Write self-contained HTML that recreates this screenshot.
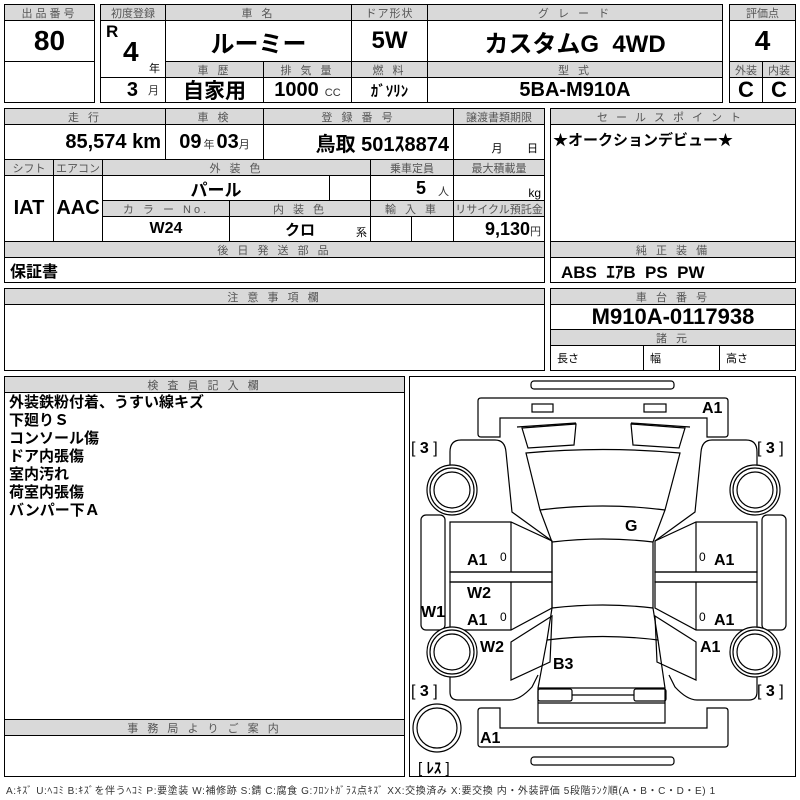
<!DOCTYPE html>
<html><head><meta charset="utf-8"><style>
body{margin:0;width:800px;height:800px;background:#fff;position:relative;overflow:hidden;font-family:"Liberation Sans","Noto Sans CJK JP",sans-serif}
.c{position:absolute;border:1px solid #000;box-sizing:border-box;display:flex;align-items:center;justify-content:center;white-space:nowrap;overflow:hidden}
.h{background:#d9d9d9;color:#555;font-size:11px;letter-spacing:3px}
.v{font-family:"Liberation Sans Narrow","Liberation Sans","Noto Sans CJK JP",sans-serif;font-weight:bold;color:#000}
.s{font-size:11px;font-weight:normal;color:#333}
.t{position:absolute;font-family:"Liberation Sans","Noto Sans CJK JP",sans-serif;font-weight:bold;white-space:nowrap}
</style></head><body>
<div class="c h" style="left:4px;top:4px;width:91px;height:17px">出品番号</div>
<div class="c v" style="left:4px;top:20px;width:91px;height:42px;font-size:28px">80</div>
<div class="c" style="left:4px;top:61px;width:91px;height:42px"></div>
<div class="c h" style="left:100px;top:4px;width:66px;height:17px;letter-spacing:0">初度登録</div>
<div class="c h" style="left:165px;top:4px;width:187px;height:17px">車 名</div>
<div class="c h" style="left:351px;top:4px;width:77px;height:17px;letter-spacing:1px">ドア形状</div>
<div class="c h" style="left:427px;top:4px;width:296px;height:17px">グ レ ー ド</div>
<div class="c" style="left:100px;top:20px;width:66px;height:58px"></div>
<div class="t v" style="left:106px;top:22px;font-size:17px">R</div>
<div class="t v" style="left:123px;top:36px;font-size:28px">4</div>
<div class="t" style="left:149px;top:60px;font-size:11px;font-weight:normal">年</div>
<div class="c v" style="left:100px;top:77px;width:66px;height:26px;font-size:20px;justify-content:flex-end;padding-right:6px">3 <span class="s" style="margin-left:10px">月</span></div>
<div class="c v" style="left:165px;top:20px;width:187px;height:42px;font-size:24px">ルーミー</div>
<div class="c v" style="left:351px;top:20px;width:77px;height:42px;font-size:24px">5W</div>
<div class="c v" style="left:427px;top:20px;width:296px;height:42px;font-size:24px">カスタムG&nbsp;&nbsp;4WD</div>
<div class="c h" style="left:165px;top:61px;width:99px;height:17px">車 歴</div>
<div class="c h" style="left:263px;top:61px;width:89px;height:17px">排 気 量</div>
<div class="c h" style="left:351px;top:61px;width:77px;height:17px">燃 料</div>
<div class="c h" style="left:427px;top:61px;width:296px;height:17px">型 式</div>
<div class="c v" style="left:165px;top:77px;width:99px;height:26px;font-size:21px">自家用</div>
<div class="c v" style="left:263px;top:77px;width:89px;height:26px;font-size:20px">1000 <span class="s" style="margin-left:6px;margin-top:6px">CC</span></div>
<div class="c v" style="left:351px;top:77px;width:77px;height:26px;font-size:15px">ｶﾞｿﾘﾝ</div>
<div class="c v" style="left:427px;top:77px;width:296px;height:26px;font-size:20px">5BA-M910A</div>
<div class="c h" style="left:729px;top:4px;width:67px;height:17px;letter-spacing:0">評価点</div>
<div class="c v" style="left:729px;top:20px;width:67px;height:42px;font-size:28px">4</div>
<div class="c h" style="left:729px;top:61px;width:34px;height:17px;letter-spacing:0">外装</div>
<div class="c h" style="left:762px;top:61px;width:34px;height:17px;letter-spacing:0">内装</div>
<div class="c v" style="left:729px;top:77px;width:34px;height:26px;font-size:22px">C</div>
<div class="c v" style="left:762px;top:77px;width:34px;height:26px;font-size:22px">C</div>
<div class="c h" style="left:4px;top:108px;width:162px;height:17px">走 行</div>
<div class="c h" style="left:165px;top:108px;width:99px;height:17px">車 検</div>
<div class="c h" style="left:263px;top:108px;width:191px;height:17px">登 録 番 号</div>
<div class="c h" style="left:453px;top:108px;width:92px;height:17px;letter-spacing:0">譲渡書類期限</div>
<div class="c v" style="left:4px;top:124px;width:162px;height:36px;font-size:20px;justify-content:flex-end;padding-right:4px">85,574 km</div>
<div class="c v" style="left:165px;top:124px;width:99px;height:36px;font-size:20px">09<span class="s" style="margin:4px 2px 0">年</span>03<span class="s" style="margin-top:4px">月</span></div>
<div class="c v" style="left:263px;top:124px;width:191px;height:36px;font-size:20px;justify-content:flex-end;padding-right:4px">鳥取 501ｽ8874</div>
<div class="c" style="left:453px;top:124px;width:92px;height:36px;font-size:11px;align-items:flex-end;padding-bottom:3px;justify-content:flex-end;padding-right:6px">月 &nbsp;&nbsp;&nbsp;&nbsp;&nbsp;&nbsp;&nbsp;日</div>
<div class="c h" style="left:4px;top:159px;width:50px;height:17px;letter-spacing:0">シフト</div>
<div class="c h" style="left:53px;top:159px;width:50px;height:17px;letter-spacing:0">エアコン</div>
<div class="c h" style="left:102px;top:159px;width:269px;height:17px">外 装 色</div>
<div class="c h" style="left:370px;top:159px;width:84px;height:17px;letter-spacing:0">乗車定員</div>
<div class="c h" style="left:453px;top:159px;width:92px;height:17px;letter-spacing:0">最大積載量</div>
<div class="c v" style="left:4px;top:175px;width:50px;height:67px;font-size:20px">IAT</div>
<div class="c v" style="left:53px;top:175px;width:50px;height:67px;font-size:20px">AAC</div>
<div class="c v" style="left:102px;top:175px;width:228px;height:26px;font-size:17px">パール</div>
<div class="c" style="left:329px;top:175px;width:42px;height:26px"></div>
<div class="c v" style="left:370px;top:175px;width:84px;height:26px;font-size:18px;justify-content:flex-end;padding-right:4px">5<span class="s" style="margin-left:12px;margin-top:5px">人</span></div>
<div class="c" style="left:453px;top:175px;width:92px;height:26px;font-size:12px;justify-content:flex-end;padding-right:3px;align-items:flex-end">kg</div>
<div class="c h" style="left:102px;top:200px;width:128px;height:17px">カ ラ ー No.</div>
<div class="c h" style="left:229px;top:200px;width:142px;height:17px">内 装 色</div>
<div class="c h" style="left:370px;top:200px;width:84px;height:17px">輸 入 車</div>
<div class="c h" style="left:453px;top:200px;width:92px;height:17px;letter-spacing:0">リサイクル預託金</div>
<div class="c v" style="left:102px;top:216px;width:128px;height:26px;font-size:16px">W24</div>
<div class="c v" style="left:229px;top:216px;width:142px;height:26px;font-size:15px">クロ</div>
<div class="t" style="left:356px;top:224px;font-size:11px;font-weight:normal">系</div>
<div class="c" style="left:370px;top:216px;width:42px;height:26px"></div>
<div class="c" style="left:411px;top:216px;width:43px;height:26px"></div>
<div class="c v" style="left:453px;top:216px;width:92px;height:26px;font-size:18px;justify-content:flex-end;padding-right:3px">9,130<span class="s" style="margin-top:4px">円</span></div>
<div class="c h" style="left:4px;top:241px;width:541px;height:17px">後 日 発 送 部 品</div>
<div class="c" style="left:4px;top:257px;width:541px;height:26px;justify-content:flex-start;padding-left:5px;font-size:16px;font-weight:bold">保証書</div>
<div class="c h" style="left:550px;top:108px;width:246px;height:17px;letter-spacing:8px">セールスポイント</div>
<div class="c" style="left:550px;top:124px;width:246px;height:118px;align-items:flex-start;justify-content:flex-start;padding:4px 2px;font-size:15px;font-weight:bold">★オークションデビュー★</div>
<div class="c h" style="left:550px;top:241px;width:246px;height:17px">純 正 装 備</div>
<div class="c v" style="left:550px;top:257px;width:246px;height:26px;font-size:17px;justify-content:flex-start;padding-left:10px">ABS&nbsp; ｴｱB&nbsp; PS&nbsp; PW</div>
<div class="c h" style="left:4px;top:288px;width:541px;height:17px">注 意 事 項 欄</div>
<div class="c" style="left:4px;top:304px;width:541px;height:67px"></div>
<div class="c h" style="left:550px;top:288px;width:246px;height:17px">車 台 番 号</div>
<div class="c v" style="left:550px;top:304px;width:246px;height:26px;font-size:22px">M910A-0117938</div>
<div class="c h" style="left:550px;top:329px;width:246px;height:17px">諸 元</div>
<div class="c" style="left:550px;top:345px;width:94px;height:26px;font-size:11px;justify-content:flex-start;padding-left:6px">長さ</div>
<div class="c" style="left:643px;top:345px;width:77px;height:26px;font-size:11px;justify-content:flex-start;padding-left:6px">幅</div>
<div class="c" style="left:719px;top:345px;width:77px;height:26px;font-size:11px;justify-content:flex-start;padding-left:6px">高さ</div>
<div class="c h" style="left:4px;top:376px;width:401px;height:17px">検 査 員 記 入 欄</div>
<div class="c" style="left:4px;top:392px;width:401px;height:328px;align-items:flex-start;justify-content:flex-start;padding:1px 4px;font-size:15px;font-weight:bold;line-height:18px;white-space:pre">外装鉄粉付着、うすい線キズ
下廻りＳ
コンソール傷
ドア内張傷
室内汚れ
荷室内張傷
バンパー下Ａ</div>
<div class="c h" style="left:4px;top:719px;width:401px;height:17px">事 務 局 よ り ご 案 内</div>
<div class="c" style="left:4px;top:735px;width:401px;height:42px"></div>
<div class="c" style="left:409px;top:376px;width:387px;height:401px"></div>
<svg style="position:absolute;left:0;top:0" width="800" height="800" viewBox="0 0 800 800" fill="none" stroke="#000" stroke-width="1.2">
<rect x="531" y="381" width="143" height="8" rx="3"/>
<path d="M478,401 Q478,398 481,398 H725 Q728,398 728,401 V434 Q728,437 725,437 H707 V418 H500 V437 H481 Q478,437 478,434 Z"/>
<rect x="532" y="404" width="21" height="8"/><rect x="644" y="404" width="22" height="8"/>
<path d="M478,744 Q478,747 481,747 H725 Q728,747 728,744 V711 Q728,708 725,708 H707 V728 H500 V708 H481 Q478,708 478,711 Z"/>
<rect x="531" y="757" width="143" height="8" rx="3"/>
<path d="M526,453 Q603,446 680,453 L665,510 Q603,502 540,510 Z"/>
<path d="M540,510 L552,542 Q603,536 653,542 L665,510"/>
<path d="M552,542 V608 Q603,602 653,608 V542"/>
<path d="M552,608 L547,640 Q603,633 658,640 L653,608"/>
<path d="M547,640 L538,688 V723 H665 V688 L658,640"/>
<line x1="538" y1="688" x2="665" y2="688"/>
<rect x="538" y="689" width="34" height="12" rx="2"/><rect x="634" y="689" width="32" height="12" rx="2"/>
<line x1="572" y1="695" x2="634" y2="695"/><line x1="538" y1="703" x2="665" y2="703"/>
<g id="L">
<path d="M522,428 L576,424 L574,445 L528,448 Z"/>
<path d="M517,427 L576,423"/>
<path d="M461,440 H495 Q505,440 506,452 L512,512 L552,541"/>
<path d="M461,440 Q450,440 450,452 V467"/>
<path d="M450,522 H511 L552,541 V572 H450 Z"/><line x1="511" y1="522" x2="511" y2="572"/>
<rect x="450" y="572" width="102" height="10"/>
<path d="M450,582 H552 V608 L511,630 H450 Z"/><line x1="511" y1="582" x2="511" y2="630"/>
<path d="M511,642 L552,616 L550,662 L511,680 Z"/>
<path d="M450,676 V692 Q450,700 458,700 H510 Q520,700 532,687 L538,675"/>
<rect x="421" y="515" width="24" height="115" rx="5"/>
<circle cx="452" cy="490" r="25" fill="#fff"/><circle cx="452" cy="490" r="22"/><circle cx="452" cy="490" r="18"/>
<circle cx="452" cy="652" r="25" fill="#fff"/><circle cx="452" cy="652" r="22"/><circle cx="452" cy="652" r="18"/>
</g>
<use href="#L" transform="translate(1207,0) scale(-1,1)"/>
<circle cx="437" cy="728" r="24"/><circle cx="437" cy="728" r="20"/>
</svg>
<div style="position:absolute;left:0;top:0;font-family:'Liberation Sans','Noto Sans CJK JP',sans-serif;font-weight:bold;font-size:16px">
<div class="t" style="left:702px;top:400px">A1</div>
<div class="t" style="left:411px;top:440px;font-weight:normal">[ <b>3</b> ]</div>
<div class="t" style="left:757px;top:440px;font-weight:normal">[ <b>3</b> ]</div>
<div class="t" style="left:625px;top:518px">G</div>
<div class="t" style="left:467px;top:552px">A1</div><div class="t" style="left:500px;top:550px;font-size:12px;font-weight:normal">0</div>
<div class="t" style="left:714px;top:552px">A1</div><div class="t" style="left:699px;top:550px;font-size:12px;font-weight:normal">0</div>
<div class="t" style="left:467px;top:585px">W2</div>
<div class="t" style="left:421px;top:604px">W1</div>
<div class="t" style="left:467px;top:612px">A1</div><div class="t" style="left:500px;top:610px;font-size:12px;font-weight:normal">0</div>
<div class="t" style="left:714px;top:612px">A1</div><div class="t" style="left:699px;top:610px;font-size:12px;font-weight:normal">0</div>
<div class="t" style="left:480px;top:639px">W2</div>
<div class="t" style="left:700px;top:639px">A1</div>
<div class="t" style="left:553px;top:656px">B3</div>
<div class="t" style="left:411px;top:683px;font-weight:normal">[ <b>3</b> ]</div>
<div class="t" style="left:757px;top:683px;font-weight:normal">[ <b>3</b> ]</div>
<div class="t" style="left:480px;top:730px">A1</div>
<div class="t" style="left:418px;top:757px;font-weight:normal;font-size:15px">[ <b>ﾚｽ</b> ]</div>
</div>
<div class="t" style="left:6px;top:782px;font-size:10px;letter-spacing:0.6px;font-weight:normal;color:#333">A:ｷｽﾞ U:ﾍｺﾐ B:ｷｽﾞを伴うﾍｺﾐ P:要塗装 W:補修跡 S:錆 C:腐食 G:ﾌﾛﾝﾄｶﾞﾗｽ点ｷｽﾞ XX:交換済み X:要交換 内・外装評価 5段階ﾗﾝｸ順(A・B・C・D・E) 1</div>
</body></html>
